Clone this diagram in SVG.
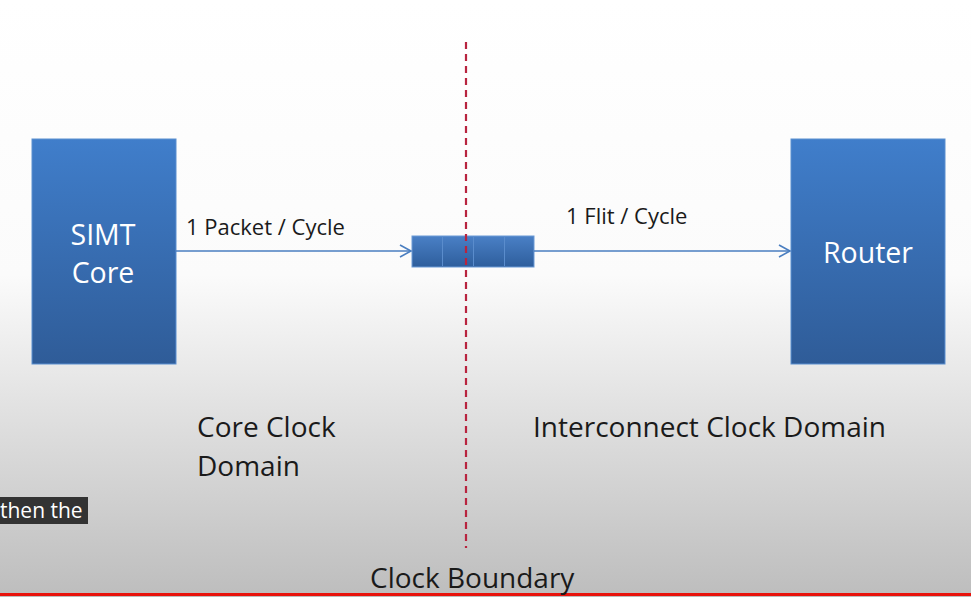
<svg xmlns="http://www.w3.org/2000/svg" width="971" height="597" viewBox="0 0 971 597">
<defs>
<linearGradient id="bg" x1="0" y1="0" x2="0" y2="1">
<stop offset="0" stop-color="#ffffff"/>
<stop offset="0.46" stop-color="#fbfbfb"/>
<stop offset="1" stop-color="#bdbdbd"/>
</linearGradient>
<linearGradient id="box" x1="0" y1="0" x2="0" y2="1">
<stop offset="0" stop-color="#407ecb"/>
<stop offset="1" stop-color="#2f5c98"/>
</linearGradient>
<linearGradient id="buf" x1="0" y1="0" x2="0" y2="1">
<stop offset="0" stop-color="#4a80c6"/>
<stop offset="1" stop-color="#2e5e9c"/>
</linearGradient>
<marker id="arr" markerWidth="14" markerHeight="14" refX="12" refY="7" orient="auto" markerUnits="userSpaceOnUse">
<path d="M1,1 L12,7 L1,13" fill="none" stroke="#4a7ec0" stroke-width="1.6"/>
</marker>
<style>
.node{fill:url(#box);stroke:#5b8fd0;stroke-width:1}
.nt{font-family:"Open Sans","Liberation Sans",sans-serif;font-size:28.5px;fill:#ffffff;text-anchor:middle}
.lbl{font-family:"Open Sans","Liberation Sans",sans-serif;font-size:22px;fill:#1a1a1a}
.big{font-family:"Open Sans","Liberation Sans",sans-serif;font-size:28px;fill:#1a1a1a}
.conn{stroke:#4a7ec0;stroke-width:1.6;fill:none}
</style>
</defs>
<rect width="971" height="597" fill="url(#bg)"/>
<line x1="0" y1="594.5" x2="971" y2="594.5" stroke="#e8120c" stroke-width="3"/>

<g id="simt-core">
<rect class="node" x="32" y="139" width="144" height="225"/>
<text class="nt" x="103" y="245">SIMT</text>
<text class="nt" x="103" y="283">Core</text>
</g>

<g id="router">
<rect class="node" x="791" y="139" width="154" height="225"/>
<text class="nt" x="868" y="263">Router</text>
</g>

<g id="buffer">
<rect x="412" y="236" width="122" height="31" fill="url(#buf)" stroke="#6a9ad6" stroke-width="1"/>
<line x1="442.5" y1="237" x2="442.5" y2="266" stroke="#5a8ccc" stroke-width="1"/>
<line x1="473.5" y1="237" x2="473.5" y2="266" stroke="#5a8ccc" stroke-width="1"/>
<line x1="504.5" y1="237" x2="504.5" y2="266" stroke="#5a8ccc" stroke-width="1"/>
</g>

<g id="connectors">
<line class="conn" x1="176" y1="251" x2="411" y2="251" marker-end="url(#arr)"/>
<line class="conn" x1="534" y1="251" x2="790" y2="251" marker-end="url(#arr)"/>
<text class="lbl" x="186" y="235">1 Packet / Cycle</text>
<text class="lbl" x="566" y="224">1 Flit / Cycle</text>
</g>

<g id="clock-boundary">
<line x1="466" y1="42" x2="466" y2="548" stroke="#b8243f" stroke-width="2.2" stroke-dasharray="7,5"/>
<text class="big" x="370" y="588">Clock Boundary</text>
</g>

<g id="domains">
<text class="big" x="197" y="437">Core Clock</text>
<text class="big" x="197" y="476">Domain</text>
<text class="big" x="533" y="437">Interconnect Clock Domain</text>
</g>

<g id="caption">
<rect x="0" y="497" width="88" height="27" fill="#333333"/>
<text x="0" y="518" font-family="'Open Sans','Liberation Sans',sans-serif" font-size="21" fill="#ffffff">then the</text>
</g>
</svg>
